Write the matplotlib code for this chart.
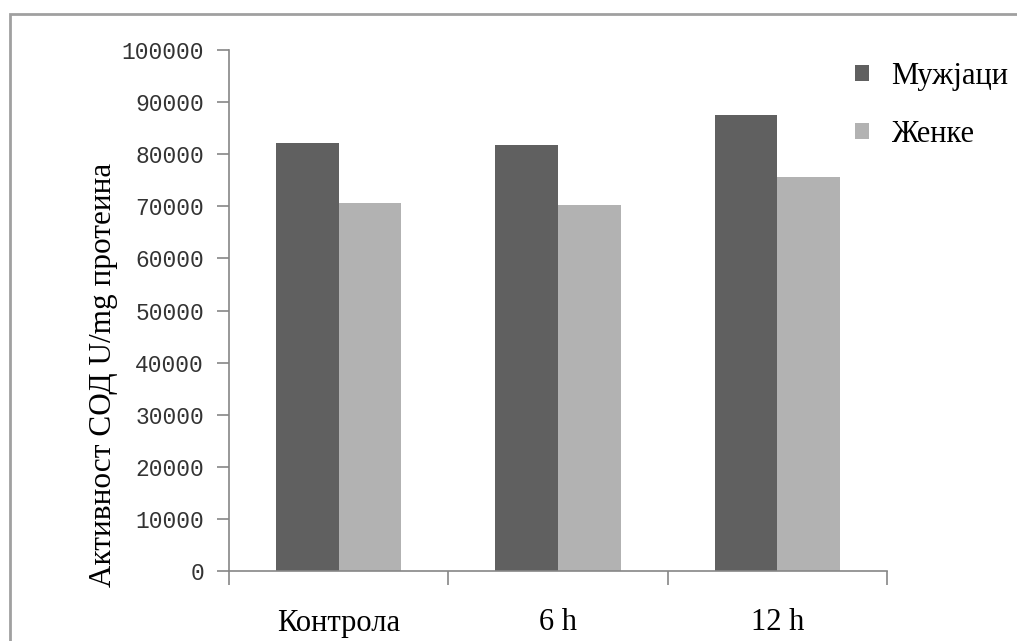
import matplotlib
matplotlib.use("Agg")
import matplotlib.pyplot as plt
from matplotlib.patches import Rectangle
import numpy as np

categories = ["Контрола", "6 h", "12 h"]
series_names = ["Мужјаци", "Женке"]
males = [82200, 81800, 87600]
females = [70600, 70200, 75600]
y_ticks = [0, 10000, 20000, 30000, 40000, 50000, 60000, 70000, 80000, 90000, 100000]
y_label = "Активност СОД U/mg протеина"

dark = "#606060"
light = "#b2b2b2"
axis_col = "#868686"

W, H = 1017, 641
fig = plt.figure(figsize=(W / 100, H / 100), dpi=100)
ax = fig.add_axes([229 / W, 1 - 571 / H, (887 - 229) / W, (571 - 50) / H])

x = np.arange(len(categories))
bw = 0.2857
ax.bar(x - bw / 2, males, width=bw, color=dark, label=series_names[0])
ax.bar(x + bw / 2, females, width=bw, color=light, label=series_names[1])

ax.set_xlim(-0.5, len(categories) - 0.5)
ax.set_ylim(0, 100000)
ax.set_yticks(y_ticks)
ax.set_yticklabels([str(v) for v in y_ticks], family="Liberation Mono", fontsize=16.5, color="#333333")
ax.tick_params(axis="y", length=9, width=1.2, color=axis_col, pad=9)

ax.set_xticks(np.arange(len(categories) + 1) - 0.5)
ax.set_xticklabels([])
ax.tick_params(axis="x", which="major", length=10, width=1.2, color=axis_col)
ax.set_xticks(x, minor=True)
ax.set_xticklabels(categories, minor=True, family="Liberation Serif", fontsize=22)
ax.tick_params(axis="x", which="minor", length=0, pad=27)

for s in ["top", "right"]:
    ax.spines[s].set_visible(False)
for s in ["left", "bottom"]:
    ax.spines[s].set_color(axis_col)
    ax.spines[s].set_linewidth(1.2)

fig.text(104 / W, 1 - 375 / H, y_label, rotation=90, ha="center", va="center",
         family="Liberation Serif", fontsize=22.5)

leg = fig.legend(loc="upper left", bbox_to_anchor=(855 / W, 1 - 62 / H), frameon=False,
                 prop={"family": "Liberation Serif", "size": 22}, handlelength=0.46,
                 handleheight=0.46, handletextpad=0.72, labelspacing=0.95, borderpad=0,
                 borderaxespad=0)

fig.patches.append(Rectangle((9.5 / W, -0.1), 1.2, 1 - 14 / H + 0.1, transform=fig.transFigure,
                             fill=False, edgecolor="#a0a0a0", linewidth=2))

fig.savefig("out.png", dpi=100)
